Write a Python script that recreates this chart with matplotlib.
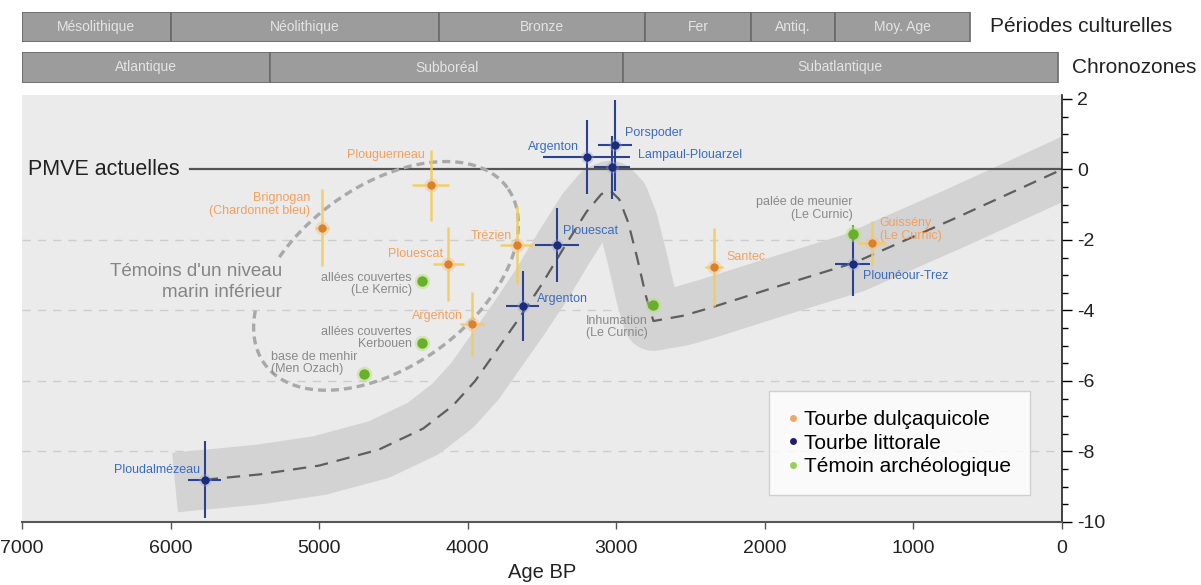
import numpy as np
import matplotlib
matplotlib.use('Agg')
import matplotlib.pyplot as plt
from matplotlib.lines import Line2D

plt.rcParams['font.family'] = ['Liberation Sans', 'DejaVu Sans']
plt.rcParams['axes.unicode_minus'] = False

# ---------------- data ----------------
curve_age = [5770, 5400, 5000, 4600, 4300, 4100, 3950, 3800, 3650, 3500, 3350, 3200,
             3100, 3040, 2980, 2920, 2860, 2800, 2750, 2550, 2370, 1900, 1400, 700, 0]
curve_alt = [-8.8, -8.65, -8.4, -7.95, -7.35, -6.7, -6.0, -5.1, -4.2, -3.25, -2.2, -1.2,
             -0.7, -0.6, -0.85, -1.5, -2.5, -3.6, -4.3, -4.15, -3.93, -3.3, -2.65, -1.35, 0.0]

fresh_names = ["Plouguerneau", "Brignogan\n(Chardonnet bleu)", "Plouescat", "Trézien",
               "Argenton", "Santec", "Guissény\n(Le Curnic)"]
fresh_age = [4250, 4980, 4130, 3670, 3970, 2340, 1280]
fresh_alt = [-0.45, -1.65, -2.68, -2.14, -4.39, -2.76, -2.1]
fresh_age_err = [125, 45, 105, 110, 80, 60, 90]
fresh_alt_err = [1.0, 1.1, 1.05, 1.1, 0.9, 1.1, 0.65]

coast_names = ["Ploudalmézeau", "Argenton", "Porspoder", "Lampaul-Plouarzel",
               "Plouescat", "Argenton", "Plounéour-Trez"]
coast_age = [5770, 3200, 3010, 3030, 3400, 3630, 1410]
coast_alt = [-8.8, 0.35, 0.68, 0.06, -2.14, -3.87, -2.68]
coast_age_err = [110, 290, 115, 120, 150, 110, 120]
coast_alt_err = [1.1, 1.05, 1.3, 0.9, 1.05, 1.0, 0.9]

arch_names = ["allées couvertes\n(Le Kernic)", "allées couvertes\nKerbouen",
              "base de menhir\n(Men Ozach)", "Inhumation\n(Le Curnic)",
              "palée de meunier\n(Le Curnic)"]
arch_age = [4310, 4310, 4700, 2750, 1410]
arch_alt = [-3.16, -4.93, -5.81, -3.85, -1.82]
arch_alt_err = [0, 0, 0, 0, 0.25]

periods = ["Mésolithique", "Néolithique", "Bronze", "Fer", "Antiq.", "Moy. Age"]
period_bounds = [7000, 6000, 4190, 2810, 2090, 1530, 620]
chronozones = ["Atlantique", "Subboréal", "Subatlantique"]
chrono_bounds = [7000, 5330, 2955, 30]

x_ticks = [7000, 6000, 5000, 4000, 3000, 2000, 1000, 0]
y_ticks = [2, 0, -2, -4, -6, -8, -10]
grid_levels = [-2, -4, -6, -8]
pmve_level = 0
pmve_start = 5870

# ---------------- style ----------------
ORANGE_TXT = '#f3a060'
ORANGE_MK = '#d9822b'
ORANGE_BAR = '#f2cc5a'
BLUE_TXT = '#3c6cbf'
BLUE_MK = '#1c2c78'
BLUE_BAR = '#2d428f'
GREEN_MK = '#68b02c'
GREY_TXT = '#8a8a8a'
LAB_FS = 9

# label offsets in pixels (dx, dy up), horizontal alignment
fresh_lab = [(-6, 30, 'right'), (-12, 23, 'right'), (-5, 10, 'right'), (-5, 9, 'right'),
             (-9, 8, 'right'), (12, 10, 'left'), (8, 14, 'left')]
coast_lab = [(-5, 10, 'right'), (-8, 10, 'right'), (10, 12, 'left'), (26, 12, 'left'),
             (6, 14, 'left'), (14, 7, 'left'), (10, -12, 'left')]
arch_lab = [(-10, -3, 'right'), (-10, 5, 'right'), (-6, 11, 'right'), (-6, -22, 'right'),
            (0, 25, 'right')]

W, H = 1201, 585
fig = plt.figure(figsize=(W / 100, H / 100), dpi=100)
x0, x1 = 22, 1062
ax = fig.add_axes([x0 / W, 1 - 522 / H, (x1 - x0) / W, 427 / H])
ax.set_xlim(7000, 0)
ax.set_ylim(-10, 2.11)
ax.set_facecolor('#ebebeb')

for s in ['top', 'left']:
    ax.spines[s].set_visible(False)
ax.spines['bottom'].set_color('#555555')
ax.spines['bottom'].set_linewidth(1.5)
ax.spines['right'].set_color('#222222')
ax.spines['right'].set_linewidth(1.2)
ax.yaxis.tick_right()
ax.set_xticks(x_ticks)
ax.set_xticklabels([str(v) for v in x_ticks], fontsize=14, color='#222222')
ax.set_yticks(y_ticks)
ax.set_yticklabels([str(v) for v in y_ticks], fontsize=14, color='#222222')
ax.set_yticks(np.arange(-10, 2.01, 0.5), minor=True)
ax.tick_params(axis='y', which='major', length=7, width=1, direction='out', pad=4)
ax.tick_params(axis='y', which='minor', length=4, width=1, direction='out')
ax.tick_params(axis='x', which='major', length=5, width=1, direction='out', colors='#555555',
               labelcolor='#222222', pad=8)
ax.set_xlabel('Age BP', fontsize=14.5, color='#222222', labelpad=4)

for g in grid_levels:
    ax.axhline(g, color='#cdcdcd', lw=1.0, dashes=(6, 5), zorder=0.5)

# band around curve
ax.plot(curve_age, curve_alt, color='#d3d3d3', lw=43, solid_capstyle='projecting',
        solid_joinstyle='round', zorder=1)
ax.plot(curve_age, curve_alt, color='#5e5e5e', lw=1.6, dashes=(6, 4), zorder=2)

# PMVE line
ax.axhline(pmve_level, xmin=(7000 - pmve_start) / 7000, color='#555555', lw=1.6, zorder=2)
ax.text(0.006, pmve_level, 'PMVE actuelles', transform=ax.get_yaxis_transform(),
        fontsize=15.5, va='center', ha='left', color='#222222')

# ellipse "témoins d'un niveau marin inférieur"
cxy = ax.transData.transform((4550, -3.02))
t = np.linspace(0, 2 * np.pi, 600)
th = np.deg2rad(36)
a, b = 150, 90
px = cxy[0] + a * np.cos(t) * np.cos(th) - b * np.sin(t) * np.sin(th)
py = cxy[1] + a * np.cos(t) * np.sin(th) + b * np.sin(t) * np.cos(th)
img_y = H - py
ed = ax.transData.inverted().transform(np.column_stack([px, py]))
gap = (px < 300) & (img_y > 262) & (img_y < 310)
ed[gap] = np.nan
ax.plot(ed[:, 0], ed[:, 1], color='#a9a9a9', lw=2.4, dashes=(2.4, 1.5), zorder=2.5)
ax.text(5250, -3.2, "Témoins d'un niveau\nmarin inférieur", ha='right', va='center',
        fontsize=13.5, color='#858585', linespacing=1.3, zorder=3)

# error bars and markers
ax.errorbar(fresh_age, fresh_alt, xerr=fresh_age_err, yerr=fresh_alt_err, fmt='none',
            ecolor=ORANGE_BAR, elinewidth=1.8, capsize=0, zorder=3, alpha=0.9)
ax.errorbar(coast_age, coast_alt, xerr=coast_age_err, yerr=coast_alt_err, fmt='none',
            ecolor=BLUE_BAR, elinewidth=1.5, capsize=0, zorder=3.2)
ax.errorbar(arch_age, arch_alt, yerr=arch_alt_err, fmt='none',
            ecolor=GREEN_MK, elinewidth=1.5, capsize=0, zorder=3.1)

ax.plot(fresh_age, fresh_alt, 'o', ms=10, color='#f6c08a', alpha=0.45, mec='none', zorder=3.5)
ax.plot(fresh_age, fresh_alt, 'o', ms=6, color=ORANGE_MK, mec='none', zorder=4)
ax.plot(coast_age, coast_alt, 'o', ms=9, color='#8fa0d8', alpha=0.35, mec='none', zorder=3.5)
ax.plot(coast_age, coast_alt, 'o', ms=6, color=BLUE_MK, mec='none', zorder=4)
ax.plot(arch_age, arch_alt, 'o', ms=11, color='#b8e07a', alpha=0.5, mec='none', zorder=3.5)
ax.plot(arch_age, arch_alt, 'o', ms=7.5, color=GREEN_MK, mec='none', zorder=4)

PT = 0.72
def labels(names, ages, alts, style, color):
    for n, xa, ya, (dx, dy, ha) in zip(names, ages, alts, style):
        ax.annotate(n, (xa, ya), xytext=(dx * PT, dy * PT), textcoords='offset points',
                    ha=ha, va='center', fontsize=LAB_FS, color=color,
                    multialignment='right' if ha == 'right' else 'left',
                    linespacing=1.05, zorder=5)

labels(fresh_names, fresh_age, fresh_alt, fresh_lab, ORANGE_TXT)
labels(coast_names, coast_age, coast_alt, coast_lab, BLUE_TXT)
for n, xa, ya, (dx, dy, ha) in zip(arch_names, arch_age, arch_alt, arch_lab):
    ax.annotate(n, (xa, ya), xytext=(dx * PT, dy * PT), textcoords='offset points',
                ha=ha, va='center', fontsize=LAB_FS, color=GREY_TXT,
                multialignment='left' if n.startswith(('base', 'Inhum')) else 'right',
                linespacing=1.05, zorder=5)

# legend
handles = [Line2D([], [], ls='none', marker='o', ms=5, color='#f0a868', mec='none'),
           Line2D([], [], ls='none', marker='o', ms=5, color='#1e1e6e', mec='none'),
           Line2D([], [], ls='none', marker='o', ms=5, color='#9ccc5a', mec='none')]
leg = ax.legend(handles, ['Tourbe dulçaquicole', 'Tourbe littorale', 'Témoin archéologique'],
                loc='lower right', bbox_to_anchor=(1 - 32 / 1040, 27 / 427), borderaxespad=0,
                fontsize=15, frameon=True, fancybox=False, handlelength=0.5,
                handletextpad=0.3, borderpad=0.9, labelspacing=0.22)
leg.get_frame().set_facecolor('white')
leg.get_frame().set_edgecolor('#c8c8c8')
leg.get_frame().set_linewidth(1.0)
leg.set_zorder(6)

# top bars
def bar_axes(top, bottom, names, bounds, label, label_x):
    bax = fig.add_axes([x0 / W, 1 - bottom / H, (x1 - x0) / W, (bottom - top) / H])
    bax.set_xlim(7000, 0)
    bax.set_ylim(0, 1)
    bax.axis('off')
    for n, s, e in zip(names, bounds[:-1], bounds[1:]):
        bax.barh(0.5, e - s, left=s, height=1.0, color='#9c9c9c', edgecolor='#6a6a6a',
                 linewidth=1.2)
        bax.text((s + e) / 2, 0.5, n, ha='center', va='center', fontsize=10,
                 color='#e4e4e4')
    fig.text(label_x / W, 1 - (top + bottom) / 2 / H, label, ha='left', va='center',
             fontsize=15, color='#222222')

bar_axes(12, 42, periods, period_bounds, 'Périodes culturelles', 990)
bar_axes(52, 83, chronozones, chrono_bounds, 'Chronozones', 1072)

fig.savefig('out.png', dpi=100, facecolor='white')
